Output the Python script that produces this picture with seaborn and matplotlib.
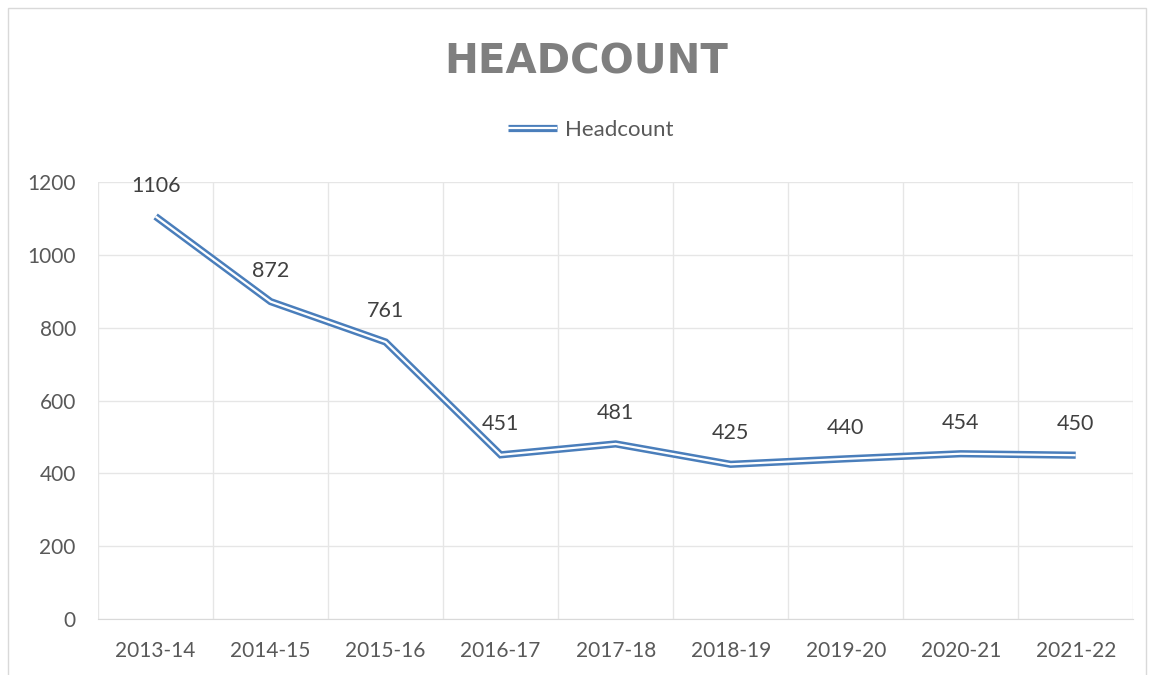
import pandas as pd
import numpy as np
import seaborn as sns
import matplotlib.pyplot as plt
from matplotlib.lines import Line2D
from matplotlib.patches import Rectangle

years = ['2013-14', '2014-15', '2015-16', '2016-17', '2017-18',
         '2018-19', '2019-20', '2020-21', '2021-22']
headcount = [1106, 872, 761, 451, 481, 425, 440, 454, 450]

df = pd.DataFrame({'year': years, 'headcount': headcount})
df['pos'] = np.arange(len(years))

sns.set_style('white')
plt.rcParams['font.family'] = ['Lato', 'DejaVu Sans']

blue = '#4a7ebb'
grey_txt = '#595959'
grid_col = '#e6e6e6'

fig = plt.figure(figsize=(11.54, 6.75), dpi=100)
ax = fig.add_axes([0.085, 0.083, 0.897, 0.647])

# double line: thick blue with thin white on top
sns.lineplot(data=df, x='pos', y='headcount', ax=ax, color=blue, linewidth=5.2,
             solid_joinstyle='miter', solid_capstyle='butt', zorder=3)
sns.lineplot(data=df, x='pos', y='headcount', ax=ax, color='white', linewidth=1.6,
             solid_joinstyle='miter', solid_capstyle='butt', zorder=4)

for x, y in zip(df['pos'], df['headcount']):
    ax.annotate(str(y), (x, y), xytext=(0, 15), textcoords='offset points',
                ha='center', va='bottom', fontsize=15.5, color='#404040')

ax.set_xlim(-0.5, len(years) - 0.5)
ax.set_ylim(0, 1200)
ax.set_yticks(range(0, 1201, 200))
ax.set_xticks(df['pos'])
ax.set_xticklabels(years)
ax.set_xticks(np.arange(-0.5, len(years), 1), minor=True)
ax.grid(False)
ax.grid(True, axis='y', which='major', color=grid_col, linewidth=1)
ax.grid(True, axis='x', which='minor', color=grid_col, linewidth=1)
ax.tick_params(axis='both', which='both', length=0, labelsize=15, colors=grey_txt)
ax.tick_params(axis='x', pad=16)
ax.tick_params(axis='y', pad=16)
for s in ['top', 'right', 'left']:
    ax.spines[s].set_visible(False)
ax.spines['bottom'].set_color('#d9d9d9')
ax.set_xlabel('')
ax.set_ylabel('')

fig.text(0.508, 0.907, 'HEADCOUNT', ha='center', va='center', fontsize=29,
         fontweight='bold', color='#7f7f7f', family=['DejaVu Sans'])

h1 = Line2D([], [], color=blue, linewidth=5.2, solid_capstyle='butt')
h2 = Line2D([], [], color='white', linewidth=1.6, solid_capstyle='butt')
fig.legend([(h1, h2)], ['Headcount'], loc='center', bbox_to_anchor=(0.512, 0.808),
           frameon=False, fontsize=16, labelcolor=grey_txt, handlelength=2.2,
           handletextpad=0.35)

fig.patches.append(Rectangle((0.007, -0.1), 0.986, 1.088, transform=fig.transFigure,
                             fill=False, edgecolor='#d9d9d9', linewidth=1))

fig.savefig('out.png', dpi=100)
